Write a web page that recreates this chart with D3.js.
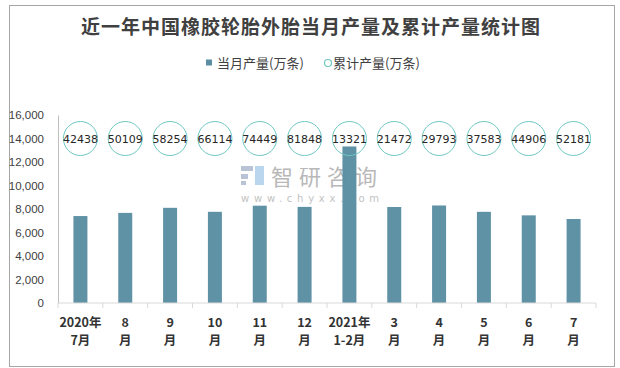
<!DOCTYPE html>
<html><head><meta charset="utf-8">
<script src="https://cdn.jsdelivr.net/npm/d3@7"></script>
<style>html,body{margin:0;padding:0;background:#fff;}svg{display:block;}</style>
</head><body>
<svg id="chart" width="620" height="368"></svg>
<script>
const categoriesTop = ["2020年","8","9","10","11","12","2021年","3","4","5","6","7"];
const categoriesBottom = ["7月","月","月","月","月","月","1-2月","月","月","月","月","月"];
const monthly = [7400, 7670, 8100, 7760, 8280, 8180, 13321, 8170, 8300, 7760, 7460, 7150];
const cumulative = [42438, 50109, 58254, 66114, 74449, 81848, 13321, 21472, 29793, 37583, 44906, 52181];
const yTicks = [0, 2000, 4000, 6000, 8000, 10000, 12000, 14000, 16000];
const labelLevel = 14000;
const title = "近一年中国橡胶轮胎外胎当月产量及累计产量统计图";
const legendNames = ["当月产量(万条)", "累计产量(万条)"];

const svg = d3.select("#chart");
const barColor = "#5b8ea3", circColor = "#6ec8c2";

svg.append("rect").attr("x", 9.5).attr("y", 5.5).attr("width", 605).attr("height", 361)
  .attr("fill", "#fff").attr("stroke", "#a6a6a6");

svg.append("text").attr("x", 311).attr("y", 34).attr("text-anchor", "middle")
  .attr("font-family", "'Noto Sans CJK SC'").attr("font-weight", "bold")
  .attr("font-size", 19).attr("letter-spacing", 1).attr("fill", "#404040").text(title);

// legend
svg.append("rect").attr("x", 206).attr("y", 59.5).attr("width", 6).attr("height", 6).attr("fill", barColor);
svg.append("text").attr("x", 217).attr("y", 67.5).attr("font-family", "'Noto Sans CJK SC'")
  .attr("font-size", 13).attr("fill", "#404040").text(legendNames[0]);
svg.append("circle").attr("cx", 328).attr("cy", 63).attr("r", 3.5).attr("fill", "none")
  .attr("stroke", circColor).attr("stroke-width", 1.2);
svg.append("text").attr("x", 333).attr("y", 67.5).attr("font-family", "'Noto Sans CJK SC'")
  .attr("font-size", 13).attr("fill", "#404040").text(legendNames[1]);

const x = d3.scaleBand().domain(d3.range(categoriesTop.length)).range([58, 596]).paddingInner(0).paddingOuter(0);
const y = d3.scaleLinear().domain([0, 16000]).range([303, 115]);

// watermark
const wm = svg.append("g");
wm.append("text").attr("x", 271).attr("y", 185).attr("font-family", "'Noto Sans CJK SC'")
  .attr("font-size", 22).attr("letter-spacing", 6).attr("fill", "#b8b8b8").text("智研咨询");
wm.append("text").attr("x", 241).attr("y", 202).attr("font-family", "'DejaVu Sans'")
  .attr("font-size", 10).attr("textLength", 138).attr("lengthAdjust", "spacing")
  .attr("fill", "#c2c2c2").text("www.chyxx.com");
wm.append("rect").attr("x", 241).attr("y", 166).attr("width", 12).attr("height", 5).attr("fill", "#b8c3d6");
wm.append("rect").attr("x", 241).attr("y", 174).attr("width", 7).attr("height", 5).attr("fill", "#b8c3d6");
wm.append("rect").attr("x", 255).attr("y", 166).attr("width", 9).attr("height", 19).attr("fill", "#b9d6ee");
wm.append("rect").attr("x", 241).attr("y", 181).attr("width", 5).attr("height", 4).attr("fill", "#b8c3d6");

// bars
const bw = 14;
svg.append("g").selectAll("rect").data(monthly).join("rect")
  .attr("x", (d, i) => x(i) + x.bandwidth() / 2 - bw / 2)
  .attr("y", d => y(d)).attr("width", bw).attr("height", d => y(0) - y(d))
  .attr("fill", barColor).attr("fill-opacity", 0.97);

// y axis
const yAxis = d3.axisLeft(y).tickValues(yTicks).tickSize(0).tickPadding(14)
  .tickFormat(d3.format(","));
const ya = svg.append("g").attr("transform", "translate(58,0)").call(yAxis);
ya.select(".domain").attr("stroke", "#bfbfbf");
ya.selectAll("text").attr("font-family", "'Liberation Sans', Arial").attr("font-size", 11.5).attr("fill", "#404040");

// x axis
const xa = svg.append("g").attr("transform", "translate(0,303)");
xa.append("line").attr("x1", 58).attr("x2", 596).attr("stroke", "#d9d9d9");
xa.selectAll("line.tk").data(d3.range(categoriesTop.length + 1)).join("line").attr("class", "tk")
  .attr("x1", i => i < categoriesTop.length ? x(i) : x(i - 1) + x.bandwidth())
  .attr("x2", i => i < categoriesTop.length ? x(i) : x(i - 1) + x.bandwidth())
  .attr("y1", 0).attr("y2", 5).attr("stroke", "#d9d9d9");
const xl = xa.selectAll("g.lab").data(categoriesTop).join("g").attr("class", "lab")
  .attr("transform", (d, i) => `translate(${x(i) + x.bandwidth() / 2},0)`);
xl.append("text").attr("y", 24).attr("text-anchor", "middle").attr("font-family", "'Noto Sans CJK SC'")
  .attr("font-weight", "bold").attr("font-size", 12.5).attr("fill", "#333").text(d => d);
xl.append("text").attr("y", 42).attr("text-anchor", "middle").attr("font-family", "'Noto Sans CJK SC'")
  .attr("font-weight", "bold").attr("font-size", 12.5).attr("fill", "#333").text((d, i) => categoriesBottom[i]);

// cumulative markers
const cg = svg.append("g").selectAll("g").data(cumulative).join("g")
  .attr("transform", (d, i) => `translate(${x(i) + x.bandwidth() / 2},${y(labelLevel)})`);
cg.append("circle").attr("r", 17).attr("fill", "none").attr("stroke", circColor).attr("stroke-width", 1);
cg.append("text").attr("y", 4).attr("text-anchor", "middle").attr("font-family", "'DejaVu Sans'")
  .attr("font-size", 11).attr("fill", "#262626").text(d => d);
</script>
</body></html>
